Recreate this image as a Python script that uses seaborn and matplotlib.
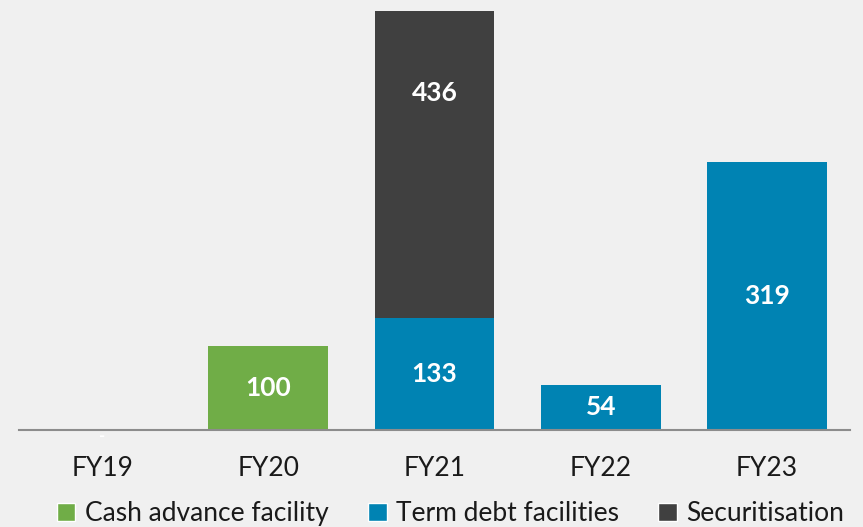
import matplotlib
matplotlib.use("Agg")
import matplotlib.pyplot as plt
from matplotlib.patches import Patch
import seaborn as sns
import pandas as pd
import numpy as np

# data
years = ['FY19', 'FY20', 'FY21', 'FY22', 'FY23']
cash_advance = [0, 100, 0, 0, 0]
term_debt = [0, 0, 133, 54, 319]
securitisation = [0, 0, 436, 0, 0]
series_names = ['Cash advance facility', 'Term debt facilities', 'Securitisation']

colors = {'Cash advance facility': '#70AD47',
          'Term debt facilities': '#0083B3',
          'Securitisation': '#404040'}
bg = '#F0F0F0'

sns.set_style('white')
plt.rcParams['font.family'] = ['Lato', 'DejaVu Sans']

df = pd.DataFrame({'year': years, 'Cash advance facility': cash_advance,
                   'Term debt facilities': term_debt, 'Securitisation': securitisation})
# cumulative tops for stacking (draw tallest first, overlay the rest)
df['cum1'] = df['Cash advance facility']
df['cum2'] = df['cum1'] + df['Term debt facilities']
df['cum3'] = df['cum2'] + df['Securitisation']

fig = plt.figure(figsize=(8.63, 5.27), dpi=100, facecolor=bg)
ax = fig.add_axes([0.022, 0.184, 0.963, 0.795])
ax.set_facecolor(bg)

for col, name in [('cum3', 'Securitisation'), ('cum2', 'Term debt facilities'),
                  ('cum1', 'Cash advance facility')]:
    sns.barplot(x='year', y=col, data=df, color=colors[name], width=0.72,
                saturation=1, ax=ax, linewidth=0, order=years)

ymax = 499
ax.set_ylim(0, ymax)
ax.set_xlim(-0.5, 4.5)

# value labels in the middle of each segment
for i, yr in enumerate(years):
    base = 0
    for name in series_names:
        v = df.loc[i, name]
        if v > 0:
            mid = base + v / 2
            if base + v > ymax:
                mid = ymax - 97
            ax.text(i, mid, str(v), ha='center', va='center', color='white',
                    fontsize=19, fontweight='bold')
        base += v
    if base == 0:
        ax.text(i, -7, '-', ha='center', va='center', color='white',
                fontsize=12, fontweight='bold', clip_on=False)

sns.despine(ax=ax, left=True, top=True, right=True)
ax.spines['bottom'].set_color('#8C8C8C')
ax.spines['bottom'].set_linewidth(1.5)
ax.set_yticks([])
ax.set_xlabel('')
ax.set_ylabel('')
ax.tick_params(axis='x', length=0, pad=19, labelsize=19, labelcolor='#1A1A1A')

handles = [Patch(facecolor=colors[n], label=n) for n in series_names]
fig.legend(handles=handles, loc='center', bbox_to_anchor=(0.522, 0.025), ncol=3,
           frameon=False, fontsize=19, handlelength=0.7, handleheight=0.7,
           handletextpad=0.35, columnspacing=1.5, labelcolor='#1A1A1A')

fig.savefig('out.png', dpi=100, facecolor=bg)
